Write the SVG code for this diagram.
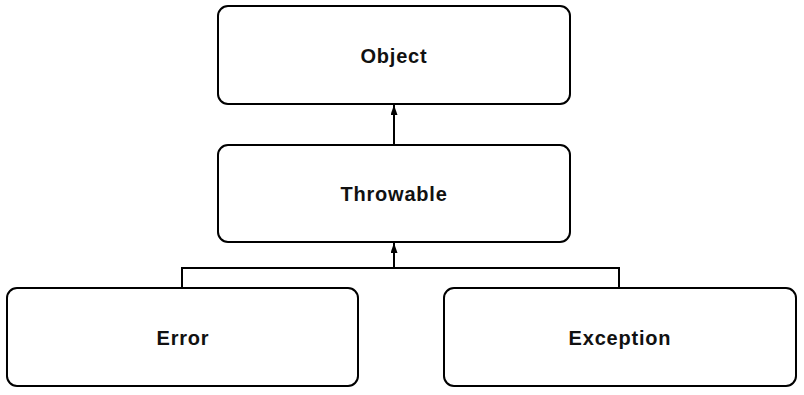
<svg xmlns="http://www.w3.org/2000/svg" width="804" height="395" viewBox="0 0 804 395">
<style>
.box{fill:#fff;stroke:#000;stroke-width:2}
.lbl{font-family:"Liberation Sans",Arial,sans-serif;font-weight:bold;font-size:20px;letter-spacing:0.8px;fill:#111;text-anchor:middle;dominant-baseline:central}
.con{fill:none;stroke:#000;stroke-width:2}
</style>
<defs>
<marker id="arr" viewBox="0 0 10 7" refX="10" refY="3.5" markerWidth="10" markerHeight="7" orient="auto" markerUnits="userSpaceOnUse">
<path d="M0,0 L10,3.5 L0,7 z" fill="#000"/>
</marker>
</defs>
<rect width="804" height="395" fill="#fff"/>
<g id="connectors">
<path class="con" d="M394,145 V105" marker-end="url(#arr)"/>
<path class="con" d="M394,268 V243" marker-end="url(#arr)"/>
<path class="con" d="M182,287 V268 H619 V287"/>
</g>
<g id="object">
<rect class="box" x="218" y="6" width="352" height="98" rx="10"/>
<text class="lbl" x="394" y="56">Object</text>
</g>
<g id="throwable">
<rect class="box" x="218" y="145" width="352" height="97" rx="10"/>
<text class="lbl" x="394" y="194">Throwable</text>
</g>
<g id="error">
<rect class="box" x="7" y="288" width="351" height="98" rx="10"/>
<text class="lbl" x="183" y="338">Error</text>
</g>
<g id="exception">
<rect class="box" x="444" y="288" width="352" height="98" rx="10"/>
<text class="lbl" x="620" y="338">Exception</text>
</g>
</svg>
